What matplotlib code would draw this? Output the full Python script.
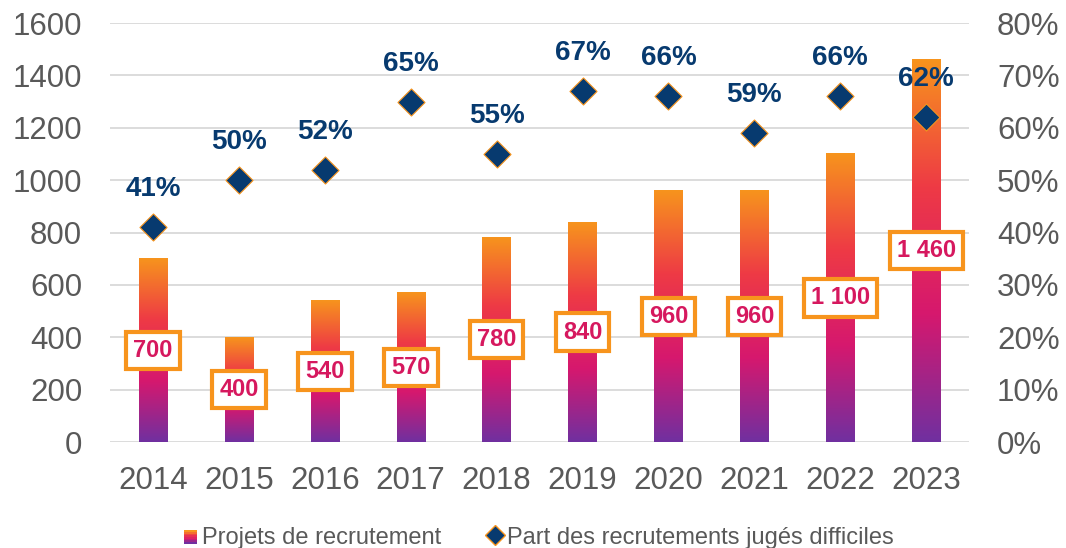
import numpy as np
import matplotlib.pyplot as plt
from matplotlib.colors import LinearSegmentedColormap
from matplotlib.patches import Rectangle
from matplotlib.lines import Line2D
from matplotlib.legend_handler import HandlerBase

plt.rcParams['font.family'] = ['Liberation Sans', 'DejaVu Sans']

years = ["2014", "2015", "2016", "2017", "2018", "2019", "2020", "2021", "2022", "2023"]
projets = [700, 400, 540, 570, 780, 840, 960, 960, 1100, 1460]
part_difficiles = [41, 50, 52, 65, 55, 67, 66, 59, 66, 62]
projets_labels = ["700", "400", "540", "570", "780", "840", "960", "960", "1 100", "1 460"]

grad = LinearSegmentedColormap.from_list(
    "grad", ["#7030A0", "#D6186E", "#EE3A45", "#F7941D"])
orange = "#F7941D"
navy = "#073A6F"
grey = "#595959"

fig = plt.figure(figsize=(10.66, 5.48), dpi=100)
ax = fig.add_axes([0.1032, 0.1934, 0.806, 0.7646])
ax2 = ax.twinx()

x = np.arange(len(years))
w = 0.33
bars = ax.bar(x, projets, width=w, color="none", zorder=2)
gimg = np.linspace(0, 1, 256).reshape(-1, 1)
for b in bars:
    x0, y0 = b.get_x(), b.get_y()
    ax.imshow(gimg, cmap=grad, origin="lower", aspect="auto",
              extent=[x0, x0 + b.get_width(), y0, y0 + b.get_height()], zorder=2)

for xi, v, lab in zip(x, projets, projets_labels):
    ax.text(xi, v / 2, lab, ha="center", va="center", fontsize=17,
            fontweight="bold", color="#D6185E", zorder=5,
            bbox=dict(boxstyle="square,pad=0.3", fc="white", ec=orange, lw=3))

ax.set_xlim(-0.5, len(years) - 0.5)
ax.set_ylim(0, 1600)
ax.set_yticks(range(0, 1601, 200))
ax.set_xticks(x)
ax.set_xticklabels(years)
ax.grid(axis="y", color="#D9D9D9", lw=1.3, zorder=0)
ax.set_axisbelow(True)

ax2.scatter(x, part_difficiles, marker="D", s=190, color=navy,
            edgecolor=orange, linewidth=0.8, zorder=6)
for xi, p in zip(x, part_difficiles):
    ax2.annotate(f"{p}%", (xi, p), xytext=(0, 18), textcoords="offset points",
                 ha="center", va="bottom", fontsize=20, fontweight="bold",
                 color=navy)
ax2.set_ylim(0, 80)
ax2.set_yticks(range(0, 81, 10))
ax2.set_yticklabels([f"{t}%" for t in range(0, 81, 10)])

for a in (ax, ax2):
    for s in a.spines.values():
        s.set_visible(False)
    a.tick_params(length=0, labelsize=22.5, labelcolor=grey)
ax.tick_params(axis="x", pad=17)
ax.tick_params(axis="y", pad=20)
ax2.tick_params(axis="y", pad=20)


class GradHandler(HandlerBase):
    def create_artists(self, legend, orig, xd, yd, width, height, fontsize, trans):
        n = 8
        size = height * 0.8
        x0 = xd + width - size
        arts = []
        for i in range(n):
            r = Rectangle((x0, yd + i * size / n), size, size / n,
                          color=grad(i / (n - 1)), transform=trans, lw=0)
            arts.append(r)
        return arts


h1 = Rectangle((0, 0), 1, 1)
h2 = Line2D([], [], marker="D", ls="none", color=navy, markeredgecolor=orange,
            markersize=10)
fig.legend([h1, h2], ["Projets de recrutement", "Part des recrutements jugés difficiles"],
           handler_map={Rectangle: GradHandler()}, loc="lower center",
           bbox_to_anchor=(0.505, -0.04), ncol=2, frameon=False, fontsize=17,
           labelcolor=grey, handlelength=0.6, handletextpad=0.2, columnspacing=2.0)

fig.savefig("out.png", dpi=100)
